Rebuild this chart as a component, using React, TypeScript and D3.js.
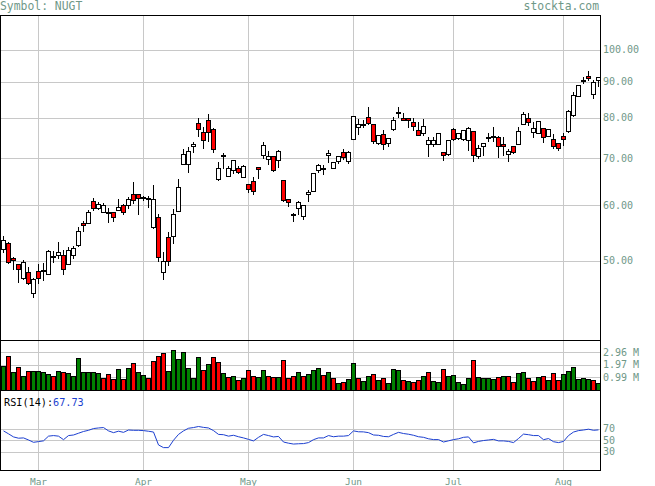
import React from 'react';
import * as d3 from 'd3';

const opens = [51.9,52.9,50.5,49.5,47.2,48.1,45.0,48.3,48.3,47.9,50.8,50.9,50.9,49.4,50.9,52.6,56.6,56.6,60.8,59.5,58.7,58.6,58.7,59.0,60.1,60.1,62.3,62.2,61.7,61.5,55.9,57.8,48.1,54.0,54.2,58.8,68.6,68.6,72.9,78.6,76.4,79.3,77.0,65.5,70.7,66.0,67.3,67.9,65.8,64.4,64.9,68.0,70.7,69.8,70.6,69.6,65.1,61.2,58.3,59.5,57.9,62.2,62.9,67.3,67.9,70.7,67.9,69.3,71.5,69.3,74.5,77.6,78.3,80.1,78.3,73.7,75.9,73.6,77.2,81.6,79.9,79.9,79.0,76.9,76.0,73.3,73.3,73.5,71.5,71.1,77.1,74.8,74.5,74.4,76.7,70.6,73.0,75.0,75.4,75.0,73.4,71.0,72.9,73.3,78.3,79.9,76.4,76.0,77.3,75.4,74.7,73.7,75.4,76.7,80.8,86.0,90.6,91.8,86.5,90.6];
const highs = [54.3,53.2,50.6,49.5,50.1,48.9,47.2,49.5,49.6,51.8,51.6,53.2,51.8,52.3,52.5,55.9,57.0,59.0,61.4,60.7,60.5,59.4,58.7,61.2,60.3,61.7,64.8,62.3,61.9,61.9,64.1,58.2,51.5,54.9,59.3,65.4,72.2,72.7,73.9,79.9,77.7,81.0,77.3,69.2,71.2,68.2,69.6,68.2,68.4,64.4,65.9,68.0,73.9,71.7,70.6,72.0,65.1,61.2,58.4,60.9,60.1,63.1,66.7,68.8,68.5,72.0,69.1,70.6,72.2,71.8,80.4,79.6,79.4,82.8,78.3,75.6,76.9,74.8,80.1,82.8,81.2,79.9,79.9,78.8,79.7,75.0,75.0,76.0,71.5,74.3,77.4,76.0,76.9,77.7,76.7,73.2,73.6,76.0,77.5,75.4,75.0,72.1,72.9,77.5,81.6,81.2,79.0,79.1,77.3,77.0,75.9,73.7,76.2,82.1,87.2,89.1,91.6,93.4,90.6,91.4];
const lows = [51.5,49.6,48.6,46.6,47.0,46.3,44.3,46.4,46.9,47.8,49.8,50.4,47.8,49.4,50.4,52.5,55.2,56.6,59.0,59.2,58.6,56.7,57.0,59.0,58.3,59.4,60.5,58.2,61.1,59.7,55.6,50.0,47.0,49.3,53.0,58.8,68.6,67.0,71.4,75.4,72.5,74.0,71.4,65.1,67.9,66.0,66.6,66.7,65.8,62.6,62.2,65.6,70.0,68.6,67.1,68.1,60.9,59.8,57.0,58.2,57.3,60.9,62.9,67.0,66.4,69.2,67.9,68.9,69.9,68.9,74.5,75.9,77.6,78.5,73.6,73.4,72.3,73.0,76.8,80.3,79.4,77.6,76.8,75.5,75.6,70.6,73.0,73.5,69.6,70.8,74.4,74.5,74.3,72.0,69.4,70.0,70.8,74.0,74.0,70.4,70.8,69.5,71.2,73.3,78.3,78.1,75.0,76.0,73.8,75.4,72.5,72.0,73.2,76.4,80.6,86.0,89.8,90.6,85.5,88.8];
const closes = [53.5,49.8,50.1,48.7,49.8,46.4,47.0,47.2,48.5,51.6,50.8,51.5,48.6,51.8,52.1,55.1,56.2,58.7,59.5,60.2,60.1,58.6,57.7,59.6,58.6,61.3,61.0,61.5,61.6,61.4,61.2,50.6,49.9,50.0,58.2,63.8,70.9,71.6,73.4,77.2,74.3,76.4,72.1,67.9,70.7,67.9,69.6,67.0,68.2,63.2,62.9,67.6,73.1,70.6,67.4,71.6,61.0,60.7,58.3,60.6,60.1,62.6,66.7,68.4,67.6,71.2,69.1,70.6,70.4,71.4,80.4,78.3,78.3,78.6,74.0,75.6,73.4,74.8,79.4,81.6,79.4,79.4,77.9,75.7,77.8,74.3,74.3,76.0,70.7,74.3,74.6,76.0,76.8,77.4,70.7,72.5,73.6,75.0,75.4,72.9,73.0,71.8,71.4,76.6,80.9,78.9,77.3,79.1,75.0,77.0,72.9,72.4,74.5,81.8,86.2,89.1,90.6,91.2,89.9,91.4];
const volumes = [1.88,2.67,1.39,1.78,1.07,1.47,1.47,1.47,1.39,1.23,1.07,1.47,1.39,1.31,1.07,2.49,1.39,1.39,1.39,1.31,0.92,1.23,0.84,1.62,0.84,1.70,2.09,1.39,1.15,0.92,2.25,2.64,2.88,1.47,3.12,2.41,2.96,1.70,0.92,2.57,1.54,2.02,2.57,2.17,1.31,0.99,1.07,0.76,0.92,1.54,1.07,0.99,1.54,1.07,0.99,0.99,2.33,0.92,1.07,1.39,1.07,1.23,1.54,1.70,1.15,1.39,0.92,0.52,0.60,0.84,2.09,0.92,0.68,1.07,1.23,0.76,0.92,0.52,1.62,1.54,0.76,0.68,0.60,0.76,1.07,1.39,0.68,0.60,1.62,1.07,1.15,0.60,0.45,0.92,2.33,0.99,0.92,0.92,0.84,0.99,1.07,1.07,0.60,1.31,1.39,0.92,0.68,0.99,1.07,0.76,1.31,0.76,1.23,1.47,1.78,0.84,0.92,0.84,0.76,0.52];
const rsiValues = [66,61,55.7,53.5,54,50.5,46.5,47.7,49,57,58,57,51,58,59,62,65,67,70,71,71.7,66,63,65.5,63.5,67.5,67,67,66.5,65.4,64,42,37.4,37.4,50,60,66,70.5,71.7,73.5,72,71,66.5,60,59.5,57,58.5,56,54,51.5,48.9,55,60,58,55.7,56.5,47,45,43.5,44,44.3,46,51,54,54,58,56,57,57,58,66,64.5,64.3,63,59,58.5,56.5,56,60,63.5,61.5,60.3,58.5,56,55,52.5,51.1,51.1,47,49,51.1,52.5,55,55.7,45.5,48,49.5,50.5,51.5,48.9,48.9,48,46,53,60.5,59.5,58,58,51,52.9,47.5,46,48,58,64,66.5,67.5,68.9,67,67.73];

const monthLabels = ['Mar','Apr','May','Jun','Jul','Aug'];
const monthIndex = [7,28,49,70,90,112];
const priceTicks = [100,90,80,70,60,50];
const volumeTicks = [2.96,1.97,0.99];
const rsiTicks = [70,50,30];

const LABEL = '#6f9888';
const GRID = '#c8c8c8';
const FONT = '"DejaVu Sans Mono", "Liberation Mono", monospace';

export default function App() {
  const n = closes.length;
  const x = d3.scaleLinear().domain([0, n - 1]).range([3, 3 + 5 * (n - 1)]);
  const y = d3.scaleLog().domain([38.5, 112.2]).range([340, 15]);
  const yv = d3.scaleLinear().domain([0, 3.925]).range([390, 340]);
  const yr = d3.scaleLinear().domain([0, 100]).range([469.5, 411]);

  const rsiLine = d3.line<number>()
    .x((_, i) => x(i) + 0.5)
    .y((v) => yr(v));

  const crisp = (v: number) => Math.round(v) + 0.5;

  return (
    <svg width={655} height={486} style={{ position: 'absolute', left: 0, top: 0, background: '#fff' }}
      shapeRendering="crispEdges">
      <rect x={0} y={0} width={655} height={486} fill="#fff" />
      {/* header */}
      <text x={0} y={10} fontFamily={FONT} fontSize={11.4} fill={LABEL}>Symbol: NUGT</text>
      <text x={599} y={10} fontFamily={FONT} fontSize={11.4} fill={LABEL} textAnchor="end">stockta.com</text>

      {/* grid: price */}
      {priceTicks.map((p) => (
        <line key={'pg' + p} x1={0} x2={600} y1={crisp(y(p))} y2={crisp(y(p))} stroke={GRID} />
      ))}
      {volumeTicks.map((v) => (
        <line key={'vg' + v} x1={0} x2={600} y1={crisp(yv(v))} y2={crisp(yv(v))} stroke={GRID} />
      ))}
      {rsiTicks.map((v) => (
        <line key={'rg' + v} x1={0} x2={600} y1={crisp(yr(v))} y2={crisp(yr(v))} stroke={GRID} />
      ))}
      {monthIndex.map((m) => (
        <line key={'mg' + m} x1={x(m) + 0.5} x2={x(m) + 0.5} y1={15} y2={470} stroke={GRID} />
      ))}

      {/* candles */}
      {closes.map((c, i) => {
        const o = opens[i];
        const cx = x(i);
        const top = Math.round(y(Math.max(o, c)));
        const bot = Math.round(y(Math.min(o, c)));
        const hi = Math.round(y(highs[i]));
        const lo = Math.round(y(lows[i]));
        const up = c >= o;
        return (
          <g key={'c' + i}>
            <line x1={cx + 0.5} x2={cx + 0.5} y1={hi} y2={lo + 1} stroke="#000" />
            <rect x={cx - 1.5} y={top + 0.5} width={4} height={Math.max(bot - top, 1)}
              fill={up ? '#fff' : '#ff0000'} stroke="#000" />
          </g>
        );
      })}

      {/* volume */}
      {volumes.map((v, i) => {
        const cx = x(i);
        const up = i === 0 ? true : closes[i] >= closes[i - 1];
        const t = Math.round(yv(v));
        return (
          <rect key={'v' + i} x={cx - 1.5} y={t + 0.5} width={4} height={390 - t}
            fill={up ? '#008000' : '#ff0000'} stroke="#000" />
        );
      })}

      {/* rsi */}
      <path d={rsiLine(rsiValues) || ''} fill="none" stroke="#1c3fd0" strokeWidth={1} shapeRendering="auto" />
      <text x={4} y={406} fontFamily={FONT} fontSize={10.2}>
        <tspan fill="#000">RSI(14):</tspan>
        <tspan fill="#1c3fd0">{rsiValues[n - 1].toFixed(2)}</tspan>
      </text>

      {/* borders */}
      <rect x={0.5} y={15.5} width={600} height={455} fill="none" stroke="#000" />
      <line x1={0} x2={601} y1={340.5} y2={340.5} stroke="#000" />
      <line x1={0} x2={601} y1={390.5} y2={390.5} stroke="#000" />

      {/* axis labels */}
      {priceTicks.map((p) => (
        <text key={'pl' + p} x={603} y={y(p) + 3.5} fontFamily={FONT} fontSize={10} fill={LABEL}>{p.toFixed(2)}</text>
      ))}
      {volumeTicks.map((v) => (
        <text key={'vl' + v} x={603} y={yv(v) + 3.5} fontFamily={FONT} fontSize={10} fill={LABEL}>{v.toFixed(2) + ' M'}</text>
      ))}
      {rsiTicks.map((v) => (
        <text key={'rl' + v} x={603} y={yr(v) + 3.5} fontFamily={FONT} fontSize={10} fill={LABEL}>{String(v)}</text>
      ))}
      {monthIndex.map((m, k) => (
        <text key={'ml' + m} x={x(m) + 0.5} y={485} fontFamily={FONT} fontSize={9.5} fill={LABEL} textAnchor="middle">{monthLabels[k]}</text>
      ))}
    </svg>
  );
}
